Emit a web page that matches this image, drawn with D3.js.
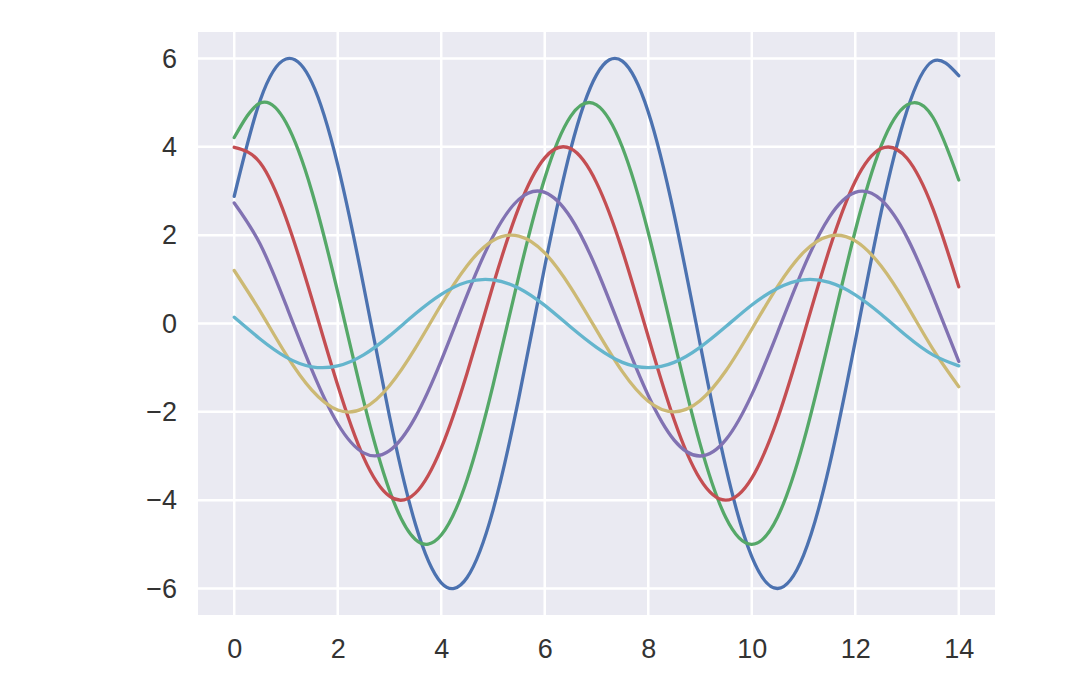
<!DOCTYPE html>
<html>
<head>
<meta charset="utf-8">
<script src="https://cdn.jsdelivr.net/npm/d3@7"></script>
<style>
  body { margin: 0; background: #fff; }
  text { font-family: "Liberation Sans", Arial, sans-serif; }
</style>
</head>
<body>
<div id="root"></div>
<script>
// x samples (every 0.5 from 0 to 14)
const xs = [0, 0.5, 1, 1.5, 2, 2.5, 3, 3.5, 4, 4.5, 5, 5.5, 6, 6.5, 7,
  7.5, 8, 8.5, 9, 9.5, 10, 10.5, 11, 11.5, 12, 12.5, 13, 13.5, 14];

// values, one array per line
const blue = [2.88, 5.05, 5.99, 5.46, 3.59, 0.85, -2.10, -4.54, -5.87, -5.75, -4.23, -1.68, 1.29, 3.94, 5.63,
  5.94, 4.79, 2.47, -0.45, -3.26, -5.28, -6.00, -5.25, -3.22, -0.40, 2.52, 4.82, 5.94, 5.61];
const green = [4.21, 4.99, 4.55, 2.99, 0.71, -1.75, -3.78, -4.89, -4.79, -3.53, -1.40, 1.08, 3.29, 4.69, 4.95,
  3.99, 2.06, -0.38, -2.72, -4.40, -5.00, -4.38, -2.68, -0.33, 2.10, 4.02, 4.95, 4.67, 3.25];
const red = [3.99, 3.64, 2.39, 0.56, -1.40, -3.03, -3.91, -3.84, -2.82, -1.12, 0.86, 2.63, 3.75, 3.96, 3.19,
  1.65, -0.30, -2.18, -3.52, -4.00, -3.50, -2.15, -0.27, 1.68, 3.22, 3.96, 3.74, 2.60, 0.83];
const purple = [2.73, 1.80, 0.42, -1.05, -2.27, -2.93, -2.88, -2.12, -0.84, 0.65, 1.97, 2.81, 2.97, 2.40, 1.24,
  -0.23, -1.63, -2.64, -3.00, -2.63, -1.61, -0.20, 1.26, 2.41, 2.97, 2.80, 1.95, 0.62, -0.86];
const yellow = [1.20, 0.28, -0.70, -1.51, -1.96, -1.92, -1.41, -0.56, 0.43, 1.31, 1.88, 1.98, 1.60, 0.82, -0.15,
  -1.09, -1.76, -2.00, -1.75, -1.07, -0.13, 0.84, 1.61, 1.98, 1.87, 1.30, 0.41, -0.58, -1.43];
const cyan = [0.14, -0.35, -0.76, -0.98, -0.96, -0.71, -0.28, 0.22, 0.66, 0.94, 0.99, 0.80, 0.41, -0.08, -0.54,
  -0.88, -1.00, -0.88, -0.54, -0.07, 0.42, 0.80, 0.99, 0.93, 0.65, 0.21, -0.29, -0.71, -0.96];

const xTicks = [0, 2, 4, 6, 8, 10, 12, 14];
const yTicks = [-6, -4, -2, 0, 2, 4, 6];

const series = [
  { values: blue, color: "#4C72B0" },
  { values: green, color: "#55A868" },
  { values: red, color: "#C44E52" },
  { values: purple, color: "#8172B2" },
  { values: yellow, color: "#CCB974" },
  { values: cyan, color: "#64B5CD" }
];

const width = 1080;
const height = 689;
const plot = { left: 198, right: 995, top: 32, bottom: 615 };

const x = d3.scaleLinear().domain([-0.7, 14.7]).range([plot.left, plot.right]);
const y = d3.scaleLinear().domain([-6.6, 6.6]).range([plot.bottom, plot.top]);

const svg = d3.select("#root").append("svg")
  .attr("width", width)
  .attr("height", height);

// axes background
svg.append("rect")
  .attr("x", plot.left)
  .attr("y", plot.top)
  .attr("width", plot.right - plot.left)
  .attr("height", plot.bottom - plot.top)
  .attr("fill", "#EAEAF2");

// grid
svg.selectAll(".vgrid")
  .data(xTicks)
  .join("line")
  .attr("class", "vgrid")
  .attr("x1", d => x(d)).attr("x2", d => x(d))
  .attr("y1", plot.top).attr("y2", plot.bottom)
  .attr("stroke", "#fff").attr("stroke-width", 2.5);

svg.selectAll(".hgrid")
  .data(yTicks)
  .join("line")
  .attr("class", "hgrid")
  .attr("x1", plot.left).attr("x2", plot.right)
  .attr("y1", d => y(d)).attr("y2", d => y(d))
  .attr("stroke", "#fff").attr("stroke-width", 2.5);

const fmt = d => d < 0 ? "\u2212" + Math.abs(d) : String(d);

// axes via d3, no domain line or tick marks
const xAxis = svg.append("g")
  .attr("transform", `translate(0,${plot.bottom})`)
  .call(d3.axisBottom(x).tickValues(xTicks).tickFormat(fmt).tickSize(0).tickPadding(24));
const yAxis = svg.append("g")
  .attr("transform", `translate(${plot.left},0)`)
  .call(d3.axisLeft(y).tickValues(yTicks).tickFormat(fmt).tickSize(0).tickPadding(21));

[xAxis, yAxis].forEach(g => {
  g.select(".domain").remove();
  g.selectAll("text")
    .attr("font-family", "'Liberation Sans', Arial, sans-serif")
    .attr("font-size", 27)
    .attr("fill", "#333");
});

// lines
const line = d3.line()
  .x((d, i) => x(xs[i]))
  .y(d => y(d))
  .curve(d3.curveNatural);

svg.selectAll(".series")
  .data(series)
  .join("path")
  .attr("class", "series")
  .attr("d", d => line(d.values))
  .attr("fill", "none")
  .attr("stroke", d => d.color)
  .attr("stroke-width", 3.3)
  .attr("stroke-linecap", "round");
</script>
</body>
</html>
